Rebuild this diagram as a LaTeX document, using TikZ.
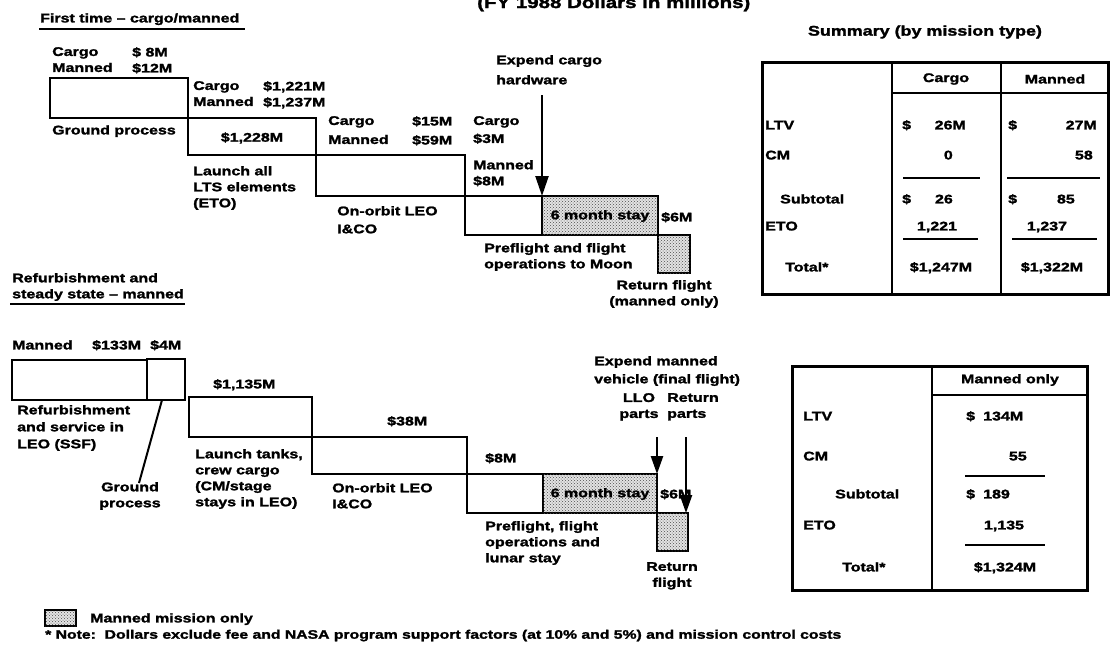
\documentclass[tikz,border=0pt]{standalone}
\usepackage{fontspec}
\setmainfont{Liberation Sans}[FakeStretch=1.28, FakeBold=1.8]
\usetikzlibrary{arrows.meta,patterns}
\newcommand\lbf{\fontsize{12.5}{16}\selectfont\bfseries}
\newcommand\ntf{\fontsize{12.3}{15}\selectfont\bfseries}
\begin{document}
\begin{tikzpicture}[x=1pt,y=-1pt,
  lbl/.style={anchor=north west, inner sep=0pt, align=left, font=\lbf, execute at begin node=\strut},
  lblr/.style={lbl, anchor=north east},
  lblc/.style={lbl, anchor=north, align=center},
  box/.style={draw=black, line width=2.8pt, fill=white},
  shadebox/.style={draw=black, line width=2.8pt, fill=gray!22, postaction={pattern=crosshatch dots, pattern color=black!70}},
  uline/.style={line width=2.4pt},
  tout/.style={line width=3pt},
  tin/.style={line width=2.3pt},
  arr/.style={line width=2.4pt, -{Triangle[length=20pt,width=13pt]}},
  sarr/.style={line width=2.4pt, -{Triangle[length=18pt,width=12pt]}}]
\useasboundingbox (0,0) rectangle (1112,665);
\fill[white] (0,0) rectangle (1112,665);

% ---- title (cut off at the top edge, as in the source) ----
\node[anchor=base west, inner sep=0pt, font=\fontsize{16}{18}\selectfont\bfseries] (title) at (477,8) {(FY 1988 Dollars in millions)};

% ================= TOP FLOW =================
\node[lbl] (h1) at (40,11) {First time -- cargo/manned};
\draw[uline] (39,29) -- (245,29);

\node[lbl] (c1l) at (52,47) {Cargo\\Manned};
\node[lbl] (c1v) at (132,47) {\$ 8M\\\$12M};
\draw[box] (50,78) rectangle (188,118);
\node[lbl] (gp) at (52,123) {Ground process};

\node[lbl] (c2l) at (193,81) {Cargo\\Manned};
\node[lbl] (c2v) at (263,81) {\$1,221M\\\$1,237M};
\draw[box] (188,118) rectangle (316,155);
\node[font=\lbf, inner sep=0pt] (v2) at (252,138) {\$1,228M};
\node[lbl] (la) at (193,166) {Launch all\\LTS elements\\(ETO)};

\node[lbl] (c3l) at (328,116) {Cargo\\[3pt]Manned};
\node[lbl] (c3v) at (412,116) {\$15M\\[3pt]\$59M};
\draw[box] (316,155) rectangle (465,196);
\node[lbl] (oo1) at (337,206) {On-orbit LEO\\[2pt]I\&CO};

\node[lbl] (c4a) at (473,116) {Cargo\\[2pt]\$3M};
\node[lbl] (c4b) at (473,160) {Manned\\\$8M};

\node[lbl] (ec) at (496,55) {Expend cargo\\[4pt]hardware};
\coordinate (ecs) at (542,95);
\coordinate (ect) at (542,196);

\draw[box] (465,196) rectangle (542,235);
\draw[shadebox] (542,196) rectangle (658,235);
\node[font=\lbf, inner sep=0pt] (st1) at (600,216) {6 month stay};
\node[lbl] (s6a) at (661,210) {\$6M};
\draw[shadebox] (658,235) rectangle (690,273);
\node[lbl] (pf1) at (484,243) {Preflight and flight\\operations to Moon};
\node[lblc] (rf1) at (664,280) {Return flight\\(manned only)};
\draw[arr] (ecs) -- (ect);

% ================= SUMMARY TABLE =================
\node[font=\fontsize{14}{16}\selectfont\bfseries, inner sep=0pt] (sumt) at (925,32) {Summary (by mission type)};
\draw[tout] (762,62) rectangle (1108,294);
\draw[tin] (892,62) -- (892,294);
\draw[tin] (1001,62) -- (1001,294);
\draw[tin] (892,93) -- (1108,93);
\node[font=\lbf, inner sep=0pt] (hc) at (946,79) {Cargo};
\node[font=\lbf, inner sep=0pt] (hm) at (1055,79) {Manned};

\node[lbl] (t1ltv) at (765,118) {LTV};
\node[lbl] (t1d1) at (902,118) {\$};
\node[lblr] (t1a) at (966,118) {26M};
\node[lbl] (t1d2) at (1008,118) {\$};
\node[lblr] (t1b) at (1097,118) {27M};

\node[lbl] (t1cm) at (765,148) {CM};
\node[lblr] (t1c) at (953,148) {0};
\node[lblr] (t1d) at (1093,148) {58};
\draw[tin] (903,178) -- (980,178);
\draw[tin] (1007,178) -- (1100,178);

\node[lbl] (t1sub) at (780,192) {Subtotal};
\node[lbl] (t1d3) at (902,192) {\$};
\node[lblr] (t1e) at (953,192) {26};
\node[lbl] (t1d4) at (1008,192) {\$};
\node[lblr] (t1f) at (1075,192) {85};

\node[lbl] (t1eto) at (765,219) {ETO};
\node[lblc] (t1g) at (937,219) {1,221};
\node[lblc] (t1h) at (1047,219) {1,237};
\draw[tin] (903,239) -- (978,239);
\draw[tin] (1012,239) -- (1097,239);

\node[lbl] (t1tot) at (785,260) {Total*};
\node[lblc] (t1i) at (941,260) {\$1,247M};
\node[lblc] (t1j) at (1052,260) {\$1,322M};

% ================= BOTTOM FLOW =================
\node[lbl] (h2) at (12,273) {Refurbishment and\\steady state -- manned};
\draw[uline] (10,304) -- (185,304);

\node[lbl] (m1) at (12,338) {Manned};
\node[lbl] (m1v) at (92,338) {\$133M};
\node[lbl] (m2v) at (150,338) {\$4M};
\draw[box] (12,360) rectangle (147,400);
\draw[box] (147,359) rectangle (185,400);
\node[lbl] (rs) at (17,405) {Refurbishment\\[1pt]and service in\\[1pt]LEO (SSF)};
\node[lblc] (gr) at (130,482) {Ground\\process};
\coordinate (grs) at (162,400);
\coordinate (grt) at (139,483);
\draw[line width=2pt] (grs) -- (grt);

\node[lbl] (v3) at (213,377) {\$1,135M};
\draw[box] (189,397) rectangle (312,437);
\node[lbl] (lt) at (195,449) {Launch tanks,\\crew cargo\\(CM/stage\\stays in LEO)};

\node[lbl] (v4) at (387,414) {\$38M};
\draw[box] (312,437) rectangle (467,474);
\node[lbl] (oo2) at (332,483) {On-orbit LEO\\I\&CO};

\node[lbl] (v5) at (485,451) {\$8M};
\draw[box] (467,474) rectangle (543,513);
\draw[shadebox] (543,474) rectangle (657,513);
\node[font=\lbf, inner sep=0pt] (st2) at (600,494) {6 month stay};
\node[lbl] (s6b) at (660,487) {\$6M};
\draw[shadebox] (657,513) rectangle (688,551);
\node[lbl] (pf2) at (485,521) {Preflight, flight\\operations and\\lunar stay};
\node[lblc] (rf2) at (672,562) {Return\\flight};

\node[lbl] (em) at (594,356) {Expend manned\\[2pt]vehicle (final flight)};
\node[lblc] (llo) at (639,393) {LLO\\parts};
\node[lbl] (ret) at (667,393) {Return\\parts};
\coordinate (llos) at (657,437);
\coordinate (llot) at (657,474);
\coordinate (rets) at (686,437);
\coordinate (rett) at (686,513);
\draw[sarr] (llos) -- (llot);
\draw[sarr] (rets) -- (rett);

% ================= MANNED ONLY TABLE =================
\draw[tout] (792,366) rectangle (1087,590);
\draw[tin] (932,366) -- (932,590);
\draw[tin] (932,395) -- (1087,395);
\node[font=\lbf, inner sep=0pt] (hmo) at (1010,380) {Manned only};

\node[lbl] (t2ltv) at (803,409) {LTV};
\node[lbl] (t2d1) at (966,409) {\$};
\node[lbl] (t2a) at (983,409) {134M};
\node[lbl] (t2cm) at (803,449) {CM};
\node[lblr] (t2b) at (1027,449) {55};
\draw[tin] (965,476) -- (1045,476);
\node[lbl] (t2sub) at (835,487) {Subtotal};
\node[lbl] (t2d2) at (966,487) {\$};
\node[lbl] (t2c) at (983,487) {189};
\node[lbl] (t2eto) at (803,518) {ETO};
\node[lblc] (t2d) at (1004,518) {1,135};
\draw[tin] (965,545) -- (1045,545);
\node[lbl] (t2tot) at (842,560) {Total*};
\node[lblc] (t2e) at (1005,560) {\$1,324M};

% ================= FOOTER =================
\draw[shadebox, line width=2.2pt] (45,610) rectangle (76,626);
\node[lbl] (leg) at (90,611) {Manned mission only};
\node[anchor=north west, inner sep=0pt, font=\ntf, execute at begin node=\strut] (note) at (45,628) {* Note:\ \ Dollars exclude fee and NASA program support factors (at 10\% and 5\%) and mission control costs};
\end{tikzpicture}
\end{document}
